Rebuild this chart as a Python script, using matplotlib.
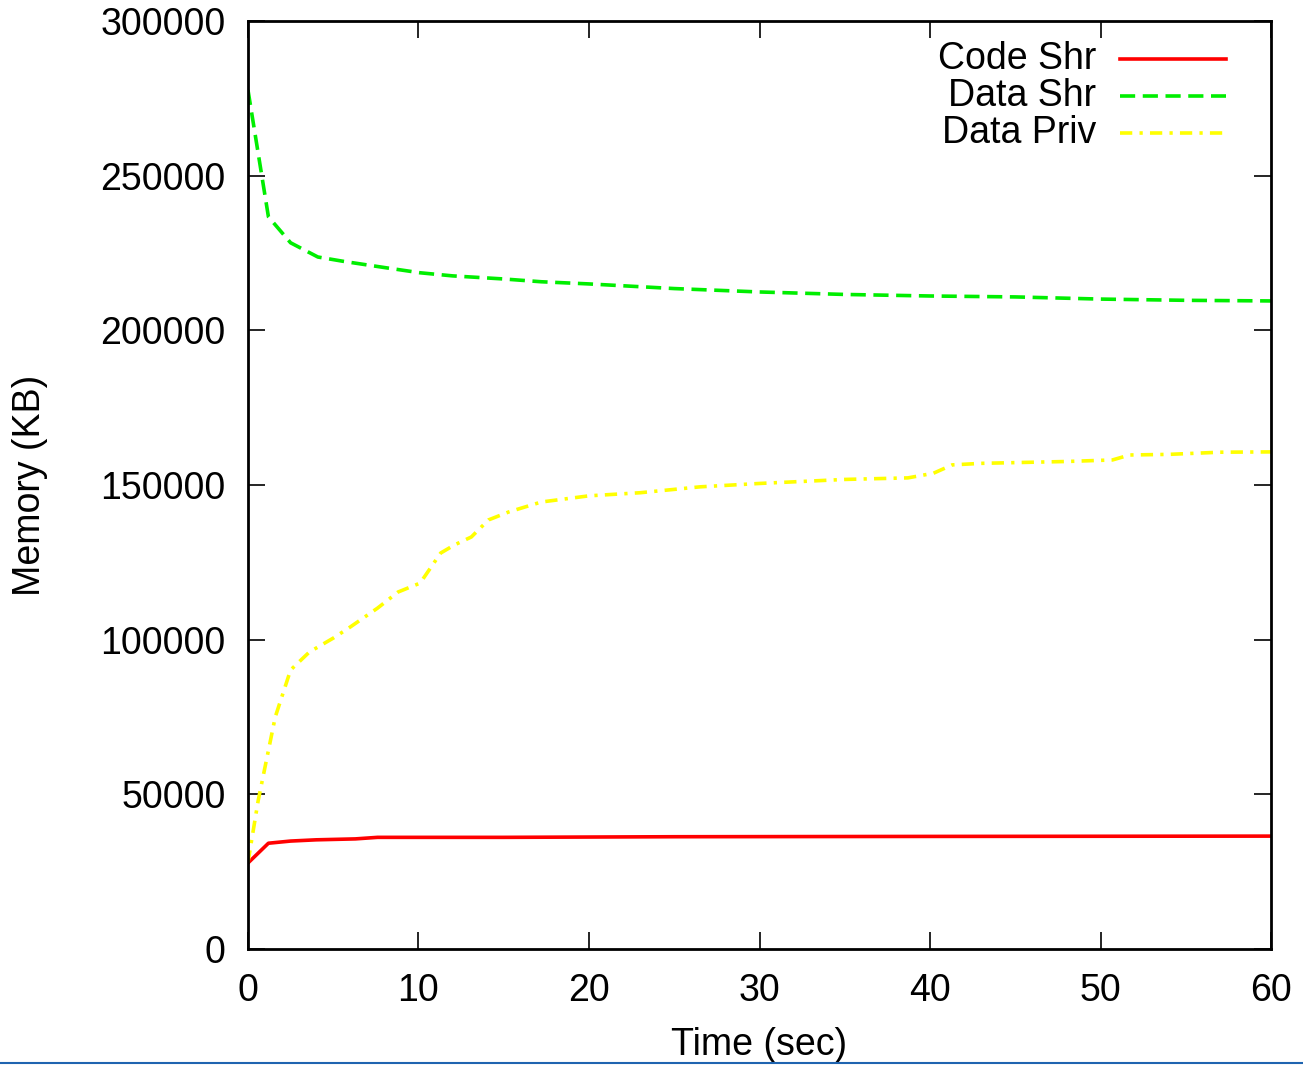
import matplotlib
matplotlib.use('Agg')
import matplotlib.pyplot as plt
from matplotlib.lines import Line2D

# memory usage samples
code_shr_t = [0, 1.2, 2.5, 4.0, 6.3, 7.6, 15, 25, 40, 60]
code_shr_kb = [27800, 34200, 34900, 35300, 35600, 36100, 36100, 36300, 36400, 36500]

data_shr_t = [0, 1.2, 2.5, 4.1, 5.6, 8.0, 10.1, 12, 15, 17.2, 20, 25, 30, 35, 40, 45, 50, 55, 60]
data_shr_kb = [277700, 236700, 228300, 223700, 222300, 220300, 218600, 217600, 216600,
               215700, 215000, 213500, 212400, 211600, 211100, 210800, 210100, 209700, 209500]

data_priv_t = [0, 0.6, 1.6, 2.5, 3.6, 5.0, 6.0, 7.6, 8.8, 10.1, 11.3, 12.1, 13.1, 14.1, 15.3,
               17.2, 20, 23, 26.5, 30, 35, 38.7, 40.2, 41.3, 43, 48, 50.7, 51.7, 54, 57, 60]
data_priv_kb = [28000, 48000, 75000, 90200, 96000, 100500, 104100, 110200, 115400, 118300,
                128000, 130600, 133200, 138700, 141300, 144500, 146500, 147500, 149400,
                150500, 151800, 152300, 153800, 156500, 157000, 157600, 158100, 159700,
                159900, 160600, 160700]

plt.rcParams['font.family'] = ['Liberation Sans', 'DejaVu Sans']
fs = 27

fig = plt.figure(figsize=(13.03, 10.65), dpi=100)
ax = fig.add_axes([0.1903, 0.1089, 0.7852, 0.8714])

styles = [
    ('Code Shr', code_shr_t, code_shr_kb, dict(color='#ff0000', lw=2.6, linestyle='-')),
    ('Data Shr', data_shr_t, data_shr_kb, dict(color='#00ee00', lw=2.6, dashes=(4.2, 2.1))),
    ('Data Priv', data_priv_t, data_priv_kb, dict(color='#ffff00', lw=2.6, dashes=(3.4, 2.0, 0.9, 2.0))),
]

for label, t, kb, st in styles:
    ax.plot(t, kb, **st)

# gnuplot style key: right aligned text with sample line to its right
key_y = [0.959, 0.919, 0.879]
for (label, t, kb, st), ky in zip(styles, key_y):
    ax.text(0.829, ky, label, transform=ax.transAxes, ha='right', va='center', fontsize=fs)
    ax.add_line(Line2D([0.852, 0.956], [ky, ky], transform=ax.transAxes, **st))

ax.set_xlim(0, 60)
ax.set_ylim(0, 300000)
ax.set_xticks(range(0, 61, 10))
ax.set_yticks(range(0, 300001, 50000))
ax.tick_params(direction='in', length=12, width=1.2, top=True, right=True, labelsize=fs)
ax.tick_params(axis='x', pad=17)
ax.tick_params(axis='y', pad=16)
for sp in ax.spines.values():
    sp.set_linewidth(2)

ax.set_xlabel('Time (sec)', fontsize=fs, labelpad=13)
ax.set_ylabel('Memory (KB)', fontsize=fs, labelpad=38)

# thin blue rule along the bottom edge of the image
fig.add_artist(Line2D([0, 1], [0.0019, 0.0019], transform=fig.transFigure,
                      color='#1f64b0', lw=1.5))

fig.savefig('out.png', dpi=100)
